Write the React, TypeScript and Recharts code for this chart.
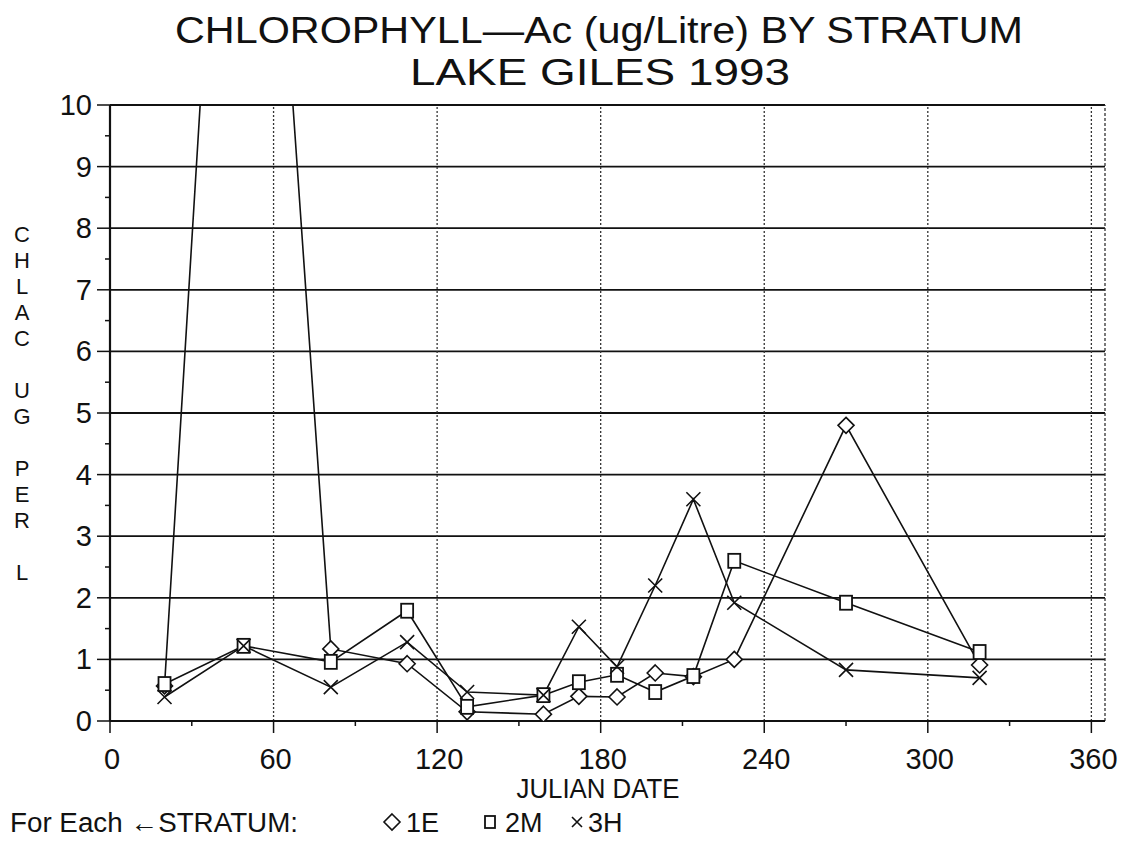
import { Line, LineChart, ReferenceLine, XAxis, YAxis } from "recharts"

const days = [20, 49, 81, 109, 131, 159, 172, 186, 200, 214, 229, 270, 319]
const stratum1E = [0.57, 21.5, 1.17, 0.93, 0.15, 0.11, 0.4, 0.39, 0.78, 0.72, 1.0, 4.8, 0.91]
const stratum2M = [0.6, 1.22, 0.96, 1.79, 0.23, 0.42, 0.63, 0.75, 0.47, 0.73, 2.6, 1.92, 1.12]
const stratum3H = [0.39, 1.22, 0.55, 1.28, 0.47, 0.42, 1.53, 0.88, 2.2, 3.6, 1.92, 0.83, 0.7]

const xTicks = [0, 30, 60, 90, 120, 150, 180, 210, 240, 270, 300, 330, 360]
const xGrid = [60, 120, 180, 240, 300, 360]
const yTicks = [0, 0.5, 1, 1.5, 2, 2.5, 3, 3.5, 4, 4.5, 5, 5.5, 6, 6.5, 7, 7.5, 8, 8.5, 9, 9.5, 10]
const yGrid = [1, 2, 3, 4, 5, 6, 7, 8, 9, 10]

const data = days.map((d, i) => ({
  day: d,
  e1: stratum1E[i],
  m2: stratum2M[i],
  h3: stratum3H[i],
}))

const INK = "#111"
const FONT = "'Liberation Sans', Arial, sans-serif"

function Diamond(props: any) {
  const { cx, cy } = props
  if (cx == null || cy == null) return null
  const r = 8
  return (
    <path
      d={`M${cx},${cy - r} L${cx + r},${cy} L${cx},${cy + r} L${cx - r},${cy} Z`}
      fill="#fff"
      stroke={INK}
      strokeWidth={1.6}
    />
  )
}

function Square(props: any) {
  const { cx, cy } = props
  if (cx == null || cy == null) return null
  return <rect x={cx - 6} y={cy - 7} width={12} height={14} fill="#fff" stroke={INK} strokeWidth={1.8} />
}

function Cross(props: any) {
  const { cx, cy } = props
  if (cx == null || cy == null) return null
  const r = 7
  return (
    <path
      d={`M${cx - r},${cy - r} L${cx + r},${cy + r} M${cx - r},${cy + r} L${cx + r},${cy - r}`}
      stroke={INK}
      strokeWidth={1.6}
    />
  )
}

function XTick(props: any) {
  const { x, y, payload } = props
  const major = payload.value % 60 === 0
  return (
    <g>
      <line x1={x} y1={y} x2={x} y2={y + (major ? 12 : 5)} stroke={INK} strokeWidth={1.5} />
      {major && (
        <text x={x + 2} y={y + 48} textAnchor="middle" fontSize={29} fontFamily={FONT} fill={INK}>
          {payload.value}
        </text>
      )}
    </g>
  )
}

function YTick(props: any) {
  const { x, y, payload } = props
  const major = payload.value % 1 === 0
  return (
    <g>
      <line x1={x - (major ? 13 : 5)} y1={y} x2={x} y2={y} stroke={INK} strokeWidth={1.5} />
      {major && (
        <text x={x - 18} y={y + 10} textAnchor="end" fontSize={29} fontFamily={FONT} fill={INK}>
          {payload.value}
        </text>
      )}
    </g>
  )
}

const yLabel = "CHLAC UG PER L"

export default function App() {
  return (
    <div style={{ position: "absolute", left: 0, top: 0, width: 1127, height: 843, background: "#fff" }}>
      <LineChart width={1127} height={843} data={data} margin={{ top: 105, right: 22, bottom: 82, left: 0 }}>
        <XAxis
          dataKey="day"
          type="number"
          domain={[0, 365]}
          ticks={xTicks}
          interval={0}
          tick={<XTick />}
          tickLine={false}
          tickSize={0}
          tickMargin={0}
          height={40}
          axisLine={{ stroke: INK, strokeWidth: 2.2 }}
        />
        <YAxis
          type="number"
          domain={[0, 10]}
          ticks={yTicks}
          interval={0}
          allowDataOverflow
          tick={<YTick />}
          tickLine={false}
          tickSize={0}
          tickMargin={0}
          width={110}
          axisLine={{ stroke: INK, strokeWidth: 2.2 }}
        />
        {yGrid.map((v) => (
          <ReferenceLine key={`h${v}`} y={v} stroke={INK} strokeWidth={v === 10 ? 2 : 1.8} />
        ))}
        {xGrid.map((v) => (
          <ReferenceLine key={`v${v}`} x={v} stroke="#333" strokeWidth={1.3} strokeDasharray="2 2" />
        ))}
        <ReferenceLine x={365} stroke="#333" strokeWidth={1.3} strokeDasharray="3 2" />
        <Line
          dataKey="e1"
          stroke={INK}
          strokeWidth={1.6}
          dot={<Diamond />}
          activeDot={false}
          isAnimationActive={false}
        />
        <Line
          dataKey="m2"
          stroke={INK}
          strokeWidth={1.6}
          dot={<Square />}
          activeDot={false}
          isAnimationActive={false}
        />
        <Line
          dataKey="h3"
          stroke={INK}
          strokeWidth={1.6}
          dot={<Cross />}
          activeDot={false}
          isAnimationActive={false}
        />
      </LineChart>
      <svg
        width={1127}
        height={843}
        style={{ position: "absolute", left: 0, top: 0, pointerEvents: "none" }}
        fontFamily={FONT}
        fill={INK}
      >
        <text x={599} y={43} textAnchor="middle" fontSize={37} textLength={848} lengthAdjust="spacingAndGlyphs">
          CHLOROPHYLL—Ac (ug/Litre) BY STRATUM
        </text>
        <text x={600} y={85} textAnchor="middle" fontSize={37} textLength={380} lengthAdjust="spacingAndGlyphs">
          LAKE GILES  1993
        </text>
        {yLabel.split("").map((ch, i) => (
          <text key={i} x={22} y={242 + i * 26} textAnchor="middle" fontSize={22}>
            {ch}
          </text>
        ))}
        <text x={598} y={798} textAnchor="middle" fontSize={27} textLength={163} lengthAdjust="spacingAndGlyphs">
          JULIAN DATE
        </text>
        <text x={10} y={832} fontSize={27} textLength={288} lengthAdjust="spacingAndGlyphs">
          For Each ←STRATUM:
        </text>
        <path d="M392,814 L400,822 L392,830 L384,822 Z" fill="none" stroke={INK} strokeWidth={1.6} />
        <text x={406} y={832} fontSize={27}>1E</text>
        <rect x={485} y={816} width={10} height={12} fill="none" stroke={INK} strokeWidth={1.8} />
        <text x={505} y={832} fontSize={27}>2M</text>
        <path d="M572,817 L582,827 M572,827 L582,817" stroke={INK} strokeWidth={1.6} />
        <text x={588} y={832} fontSize={27}>3H</text>
      </svg>
    </div>
  )
}
